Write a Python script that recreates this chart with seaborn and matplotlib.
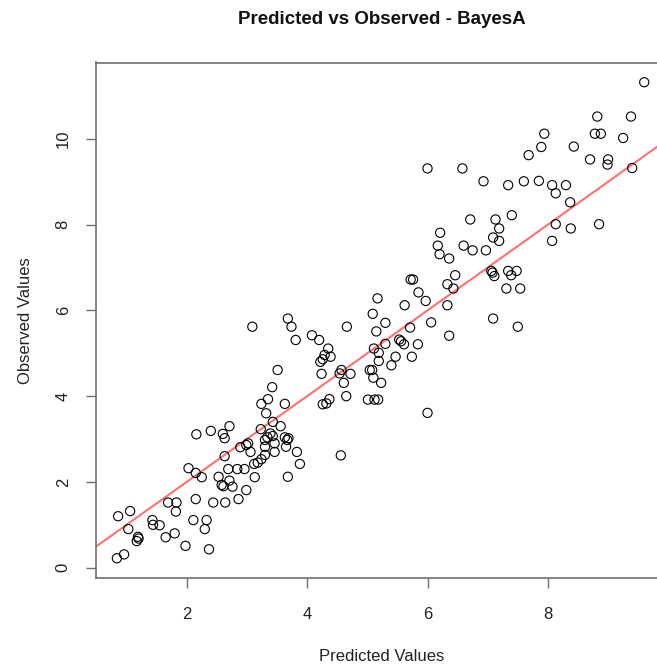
import numpy as np
import pandas as pd
import matplotlib
matplotlib.use("Agg")
import matplotlib.pyplot as plt
import seaborn as sns

# ---------------- data ----------------
predicted = [
    0.84, 0.96, 0.86, 1.06, 1.03, 1.19, 1.17, 1.20, 1.43, 1.44,
    1.55, 1.65, 1.80, 1.69, 1.83, 1.82, 1.98, 2.11, 2.15, 2.33,
    2.30, 2.37, 2.44, 2.64, 2.86, 2.99, 2.03, 2.15, 2.25, 2.16,
    2.40, 2.60, 2.63, 2.63, 2.53, 2.58, 2.61, 2.71, 2.76, 2.69,
    2.84, 2.96, 2.89, 3.02, 3.06, 3.13, 3.12, 3.18, 3.24,
    3.09, 3.68, 3.74, 3.81, 4.08, 4.20, 4.35, 4.29, 4.39, 4.22,
    4.26, 4.24, 4.66, 4.57, 4.54, 4.72, 4.61, 4.65, 4.26, 4.32,
    4.37, 3.51, 3.42, 3.35, 3.24, 3.63, 3.32, 3.43, 3.56, 2.71,
    3.23, 3.39, 3.43, 3.34, 3.30, 3.63, 3.69, 3.67, 2.99, 3.46,
    3.30, 3.46, 3.30, 3.65, 3.83, 3.88, 3.68, 4.56,
    5.01, 5.12, 5.18, 5.04, 5.08, 5.10, 5.23, 5.09, 5.15, 5.30,
    5.11, 5.19, 5.19, 5.30, 5.17, 5.40,
    6.20, 6.36, 6.75, 6.97, 5.72, 5.76, 6.46, 6.33, 6.43, 5.85,
    5.97, 5.62, 6.33, 6.06, 5.71, 6.36, 5.53, 5.56, 5.61, 5.84,
    5.47, 5.74, 6.00, 7.09, 7.06, 7.08, 7.11,
    6.00, 6.58, 6.93, 7.34, 7.60, 7.85, 8.07, 8.13, 8.30, 7.68,
    7.89, 8.43, 8.70, 8.37, 8.13, 8.38, 8.07, 6.71, 7.40, 7.13,
    7.19, 7.09, 7.19, 6.21, 6.17, 6.60, 7.34, 7.48, 7.39, 7.31,
    7.54, 7.50, 8.85,
    9.60, 8.82, 9.38, 8.78, 8.88, 7.94, 9.25, 9.00, 8.99, 9.40,
]
observed = [
    0.22, 0.31, 1.20, 1.32, 0.90, 0.72, 0.62, 0.68, 1.11, 1.00,
    0.99, 0.71, 0.80, 1.52, 1.52, 1.31, 0.51, 1.11, 1.60, 1.11,
    0.90, 0.43, 1.52, 1.52, 1.60, 1.81, 2.32, 2.21, 2.11, 3.11,
    3.19, 3.12, 3.02, 2.60, 2.12, 1.93, 1.90, 2.03, 1.89, 2.30,
    2.30, 2.30, 2.81, 2.90, 2.70, 2.11, 2.42, 2.45, 2.53,
    5.62, 5.81, 5.62, 5.31, 5.42, 5.31, 5.11, 4.96, 4.92, 4.80,
    4.86, 4.52, 5.62, 4.61, 4.53, 4.52, 4.31, 4.00, 3.81, 3.83,
    3.93, 4.61, 4.21, 3.93, 3.82, 3.82, 3.60, 3.40, 3.30, 3.30,
    3.23, 3.13, 3.07, 3.04, 2.98, 3.04, 3.02, 2.98, 2.86, 2.90,
    2.82, 2.70, 2.63, 2.82, 2.70, 2.42, 2.12, 2.62,
    3.92, 3.92, 3.92, 4.61, 4.61, 4.43, 4.31, 5.92, 5.51, 5.71,
    5.11, 5.01, 4.82, 5.22, 6.28, 4.72,
    7.31, 7.21, 7.40, 7.40, 6.72, 6.72, 6.82, 6.61, 6.51, 6.42,
    6.22, 6.12, 6.12, 5.72, 5.60, 5.41, 5.32, 5.28, 5.21, 5.21,
    4.92, 4.92, 3.61, 5.81, 6.92, 6.88, 6.80,
    9.31, 9.31, 9.01, 8.92, 9.01, 9.02, 8.92, 8.73, 8.92, 9.62,
    9.81, 9.82, 9.52, 8.52, 8.01, 7.91, 7.62, 8.12, 8.22, 8.12,
    7.91, 7.70, 7.62, 7.81, 7.51, 7.51, 6.92, 6.92, 6.82, 6.51,
    6.51, 5.62, 8.01,
    11.32, 10.52, 10.52, 10.12, 10.12, 10.12, 10.02, 9.52, 9.40, 9.32,
]
ref_intercept = 0.0
ref_slope = 1.0
x_ticks = [2, 4, 6, 8]
y_ticks = [0, 2, 4, 6, 8, 10]
title_text = "Predicted vs Observed - BayesA"
x_label = "Predicted Values"
y_label = "Observed Values"

# ---------------- style ----------------
sns.set_theme(style="white")
plt.rcParams['font.family'] = ['Liberation Sans', 'DejaVu Sans']

W, H = 657, 665
fig = plt.figure(figsize=(W / 100, H / 100), dpi=100)
left_px, right_px, top_px, bottom_px = 95.7, 668.0, 62.5, 578.0
ax = fig.add_axes([left_px / W, 1 - bottom_px / H,
                   (right_px - left_px) / W, (bottom_px - top_px) / H])

df = pd.DataFrame({"Predicted": predicted, "Observed": observed})
sns.scatterplot(data=df, x="Predicted", y="Observed", ax=ax, marker='o',
                s=44, facecolors='none', edgecolor='black', linewidth=0.8,
                zorder=3)
ax.axline((0, ref_intercept), slope=ref_slope, color='#ff7070', lw=1.5, zorder=2)

ax.set_xlim(0.488, 9.995)
ax.set_ylim(-0.24, 11.78)
ax.set_xticks(x_ticks)
ax.set_yticks(y_ticks)
ax.set_xticklabels([str(t) for t in x_ticks])
ax.set_yticklabels([str(t) for t in y_ticks], rotation=90, va='center')

for sp in ['top', 'left', 'bottom', 'right']:
    ax.spines[sp].set_color('#707070')
    ax.spines[sp].set_linewidth(1.2)
    ax.spines[sp].set_visible(True)

ax.tick_params(axis='both', which='major', bottom=True, left=True,
               direction='out', length=7, width=1.0, color='#707070',
               labelsize=12, labelcolor='#222222')
ax.tick_params(axis='x', pad=14)
ax.tick_params(axis='y', pad=11)

ax.set_xlabel(x_label, fontsize=12, color='#222222', labelpad=19)
ax.set_ylabel(y_label, fontsize=12, color='#222222', labelpad=16)
fig.text((left_px + right_px) / 2 / W, 1 - 19 / H, title_text,
         ha='center', va='center', fontsize=13.5, fontweight='bold', color='#111111')

fig.savefig("out.png", dpi=100)
